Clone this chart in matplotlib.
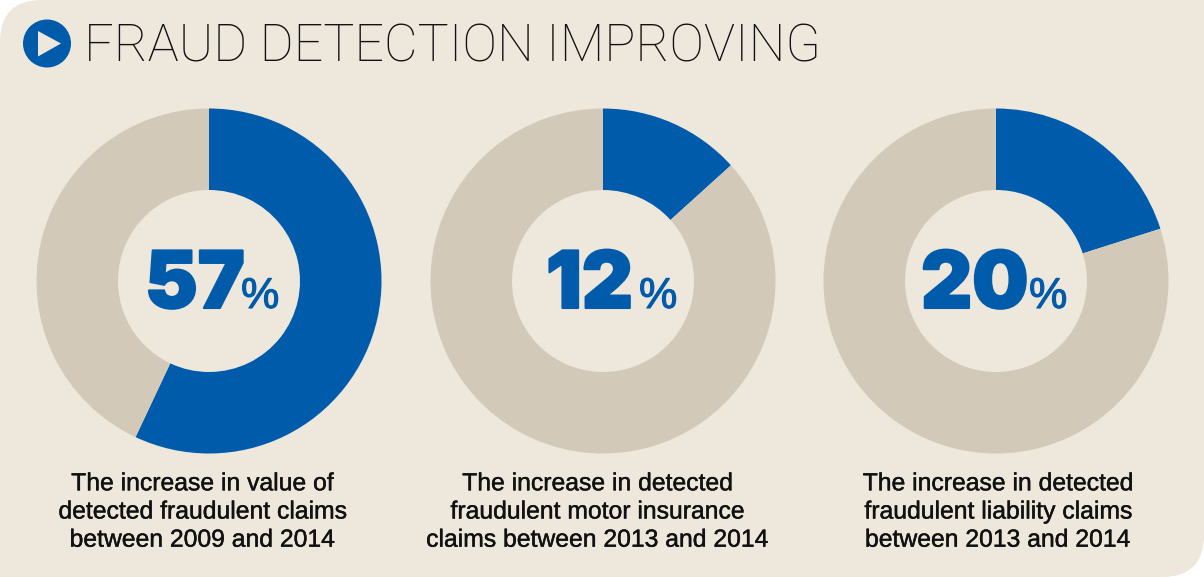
# -*- coding: utf-8 -*-
import matplotlib

matplotlib.use("Agg")
import matplotlib.pyplot as plt
import matplotlib.patheffects as pe
from matplotlib.patches import Circle, PathPatch, Polygon
from matplotlib.path import Path

W, H = 1204, 577
BLUE = "#005bab"
TAN = "#d3c9b8"
CARD = "#ede7dc"

plt.rcParams["font.family"] = ["Liberation Sans", "DejaVu Sans"]

title = "FRAUD DETECTION IMPROVING"
drawn_share = [57, 13.3, 20.1]
labels = ["57", "12", "20"]
captions = [
    "The increase in value of\ndetected fraudulent claims\nbetween 2009 and 2014",
    "The increase in detected\nfraudulent motor insurance\nclaims between 2013 and 2014",
    "The increase in detected\nfraudulent liability claims\nbetween 2013 and 2014",
]

centers_x = [209, 603, 996]
number_x = [145, 546, 921]
percent_x = [241, 639, 1029]
caption_x = [202.5, 597.5, 998]


def y(py):
    return H - py


fig = plt.figure(figsize=(W / 100, H / 100), dpi=100, facecolor="white")
ax = fig.add_axes([0, 0, 1, 1])

# card with only two corners rounded
r = 42
verts = [
    (r, y(0)), (W, y(0)), (W, y(H - r)), (W, y(H)), (W - r, y(H)),
    (0, y(H)), (0, y(r)), (0, y(0)), (r, y(0)), (r, y(0)),
]
codes = [
    Path.MOVETO, Path.LINETO, Path.LINETO, Path.CURVE3, Path.CURVE3,
    Path.LINETO, Path.LINETO, Path.CURVE3, Path.CURVE3, Path.CLOSEPOLY,
]
ax.add_patch(PathPatch(Path(verts, codes), facecolor=CARD, edgecolor="none"))

for cx, share, label, nx, px, caption, tx in zip(
    centers_x, drawn_share, labels, number_x, percent_x, captions, caption_x
):
    ax.pie(
        [share, 100 - share],
        colors=[BLUE, TAN],
        center=(cx, y(281)),
        radius=172.5,
        startangle=90,
        counterclock=False,
        wedgeprops={"width": 81.5, "linewidth": 0},
    )
    ax.text(
        nx, y(308), label, fontsize=57, family=["Inter", "DejaVu Sans"],
        fontweight="black", color=BLUE, ha="left", va="baseline",
        path_effects=[pe.withStroke(linewidth=1.5, foreground=BLUE)],
    )
    ax.text(
        px, y(308), "%", fontsize=31, color=BLUE, ha="left", va="baseline",
        path_effects=[pe.withStroke(linewidth=0.8, foreground=BLUE)],
    )
    ax.text(
        tx, y(511.5), caption, fontsize=17.8, color="#111111", ha="center",
        va="center", linespacing=1.22,
        path_effects=[pe.withStroke(linewidth=0.3, foreground="#111111")],
    )

# title marker
ax.add_patch(Circle((47, y(43.5)), 24, facecolor=BLUE, edgecolor="none"))
ax.add_patch(
    Polygon(
        [(38, y(31)), (38, y(56.5)), (61, y(43.5))],
        facecolor=CARD,
        edgecolor="none",
    )
)
ax.text(
    84, y(61), title, fontsize=37.4, family=["Roboto", "DejaVu Sans"],
    fontweight="light", color="#111111", ha="left", va="baseline",
)

ax.set_xlim(0, W)
ax.set_ylim(0, H)
ax.set_aspect("auto")
ax.axis("off")

fig.savefig("out.png", dpi=100, facecolor="white")
